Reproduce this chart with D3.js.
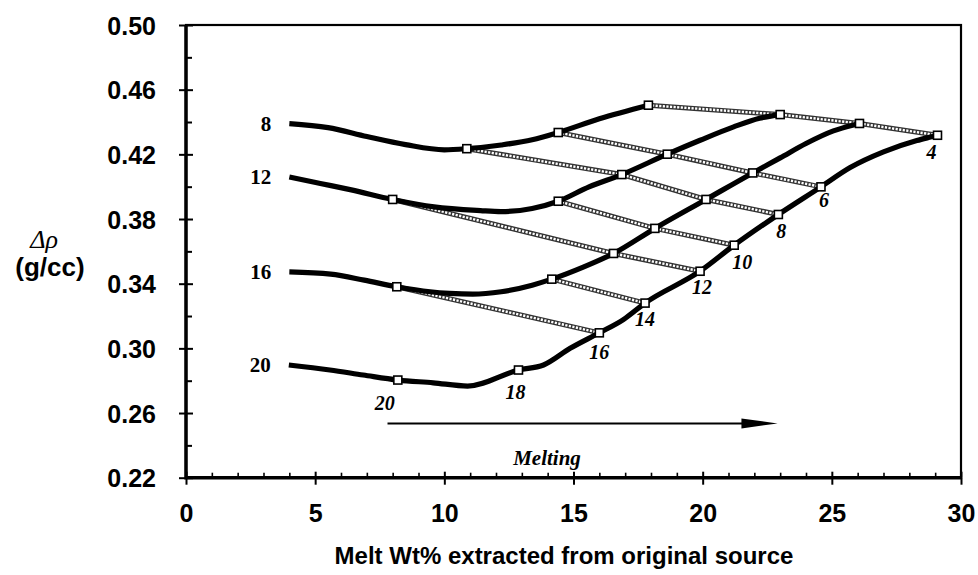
<!DOCTYPE html>
<html>
<head>
<meta charset="utf-8">
<script src="https://cdn.jsdelivr.net/npm/d3@7/dist/d3.min.js"></script>
<style>
  body { margin: 0; background: #fff; }
  svg { display: block; }
</style>
</head>
<body>
<svg id="chart" width="978" height="575"></svg>
<script>
// ---- data ---------------------------------------------------------------
// Axis ticks
const xTickValues = [0, 5, 10, 15, 20, 25, 30];
const xMinorValues = [1,2,3,4,6,7,8,9,11,12,13,14,16,17,18,19,21,22,23,24,26,27,28,29];
const yTickValues = [0.22, 0.26, 0.30, 0.34, 0.38, 0.42, 0.46, 0.50];
const yMinorValues = [0.24, 0.28, 0.32, 0.36, 0.40, 0.44, 0.48];

// Melting paths, one per starting pressure: [melt wt%, density contrast]
const startPressures = ["8", "12", "16", "20"];
const path8 = [[4.0,0.439],[5.5,0.4365],[7.0,0.431],[8.5,0.426],[10.0,0.4228],[10.87,0.4235],
  [12.2,0.4258],[13.4,0.429],[14.41,0.4335],[16.0,0.442],[17.9,0.4504]];
const path12 = [[4.0,0.406],[5.2,0.402],[6.4,0.398],[8.0,0.3921],[9.6,0.3875],[11.4,0.3852],
  [12.2,0.3846],[13.4,0.3865],[14.41,0.391],[15.6,0.3999],[16.87,0.4075],[18.63,0.4201],
  [19.9,0.4287],[21.2,0.437],[22.2,0.4423],[23.0,0.4446]];
const path16 = [[4.0,0.3473],[5.6,0.3459],[6.9,0.3422],[8.16,0.3381],[9.45,0.335],[10.2,0.334],
  [11.1,0.3335],[12.2,0.335],[13.4,0.3391],[14.16,0.3428],[15.4,0.3504],[16.55,0.3587],
  [18.15,0.3742],[20.13,0.3921],[21.94,0.4085],[23.0,0.4178],
  [24.0,0.4267],[25.06,0.4345],[25.84,0.4382],[26.07,0.4391]];
const path20 = [[3.98,0.2897],[5.57,0.2866],[6.86,0.2835],[8.2,0.2804],[9.57,0.2787],[10.9,0.2767],
  [12.87,0.2866],[13.84,0.2897],[14.87,0.300],[16.0,0.3096],[16.93,0.3178],[17.77,0.328],
  [19.9,0.3477],[21.22,0.3638],[22.93,0.3828],[24.58,0.3999],[25.71,0.4118],
  [27.0,0.4215],[28.29,0.4285],[28.74,0.4304],[29.09,0.4318]];

// Final-pressure isobars linking the paths (labelled at their last point)
const finalPressures = ["20", "18", "16", "14", "12", "10", "8", "6", "4"];
const iso20 = [[8.2,0.2804]];
const iso18 = [[12.87,0.2866]];
const iso16 = [[8.16,0.3381],[16.0,0.3096]];
const iso14 = [[14.16,0.3428],[17.77,0.328]];
const iso12 = [[8.0,0.3921],[16.55,0.3587],[19.9,0.3477]];
const iso10 = [[14.41,0.391],[18.15,0.3742],[21.22,0.3638]];
const iso8  = [[10.87,0.4235],[16.87,0.4075],[20.13,0.3921],[22.93,0.3828]];
const iso6  = [[14.41,0.4335],[18.63,0.4201],[21.94,0.4085],[24.58,0.3999]];
const iso4  = [[17.9,0.4504],[23.0,0.4446],[26.07,0.4391],[29.09,0.4318]];

// ---- layout -------------------------------------------------------------
const svg = d3.select("#chart");
const x = d3.scaleLinear().domain([0, 30]).range([186, 961]);
const y = d3.scaleLinear().domain([0.22, 0.50]).range([477.7, 25]);

const paths = [path8, path12, path16, path20];
const isobars = [iso20, iso18, iso16, iso14, iso12, iso10, iso8, iso6, iso4];
// label nudges (px) for the final-pressure numbers, relative to the last marker
const isoLabelOffset = [[-13,30],[-3,29],[0,26],[0,23],[2,23],[8,24],[3,24],[3,20],[-6,24]];

const sans = "'Liberation Sans', Arial, Helvetica, sans-serif";
const serif = "'Liberation Serif', 'Times New Roman', serif";

// ---- axes ---------------------------------------------------------------
// outward part of major ticks + labels
const yAxis = svg.append("g").attr("transform", `translate(${x(0)},0)`)
  .call(d3.axisLeft(y).tickValues(yTickValues).tickSize(7).tickPadding(23)
    .tickFormat(d3.format(".2f")));
yAxis.select(".domain").remove();
yAxis.selectAll("line").attr("stroke", "#000").attr("stroke-width", 2);
yAxis.selectAll("text").attr("font-family", sans).attr("font-weight", "bold")
  .attr("font-size", 25).attr("fill", "#000").attr("dy", "0.36em");

// inward major + minor ticks on the left axis
svg.append("g").attr("transform", `translate(${x(0)},0)`)
  .call(d3.axisRight(y).tickValues(yTickValues).tickSize(7).tickFormat(""))
  .call(g => g.select(".domain").remove())
  .call(g => g.selectAll("line").attr("stroke-width", 2));
svg.append("g").attr("transform", `translate(${x(0)},0)`)
  .call(d3.axisRight(y).tickValues(yMinorValues).tickSize(6).tickFormat(""))
  .call(g => g.select(".domain").remove())
  .call(g => g.selectAll("line").attr("stroke-width", 2));

const xAxis = svg.append("g").attr("transform", `translate(0,${y(0.22)})`)
  .call(d3.axisBottom(x).tickValues(xTickValues).tickSize(7).tickPadding(20)
    .tickFormat(d3.format("d")));
xAxis.select(".domain").remove();
xAxis.selectAll("line").attr("stroke", "#000").attr("stroke-width", 2);
xAxis.selectAll("text").attr("font-family", sans).attr("font-weight", "bold")
  .attr("font-size", 25).attr("fill", "#000");

svg.append("g").attr("transform", `translate(0,${y(0.22)})`)
  .call(d3.axisTop(x).tickValues(xTickValues).tickSize(6).tickFormat(""))
  .call(g => g.select(".domain").remove())
  .call(g => g.selectAll("line").attr("stroke-width", 2));
svg.append("g").attr("transform", `translate(0,${y(0.22)})`)
  .call(d3.axisTop(x).tickValues(xMinorValues).tickSize(5).tickFormat(""))
  .call(g => g.select(".domain").remove())
  .call(g => g.selectAll("line").attr("stroke-width", 1.6));

// frame
svg.append("rect")
  .attr("x", x(0)).attr("y", y(0.50))
  .attr("width", x(30) - x(0)).attr("height", y(0.22) - y(0.50))
  .attr("fill", "none").attr("stroke", "#000").attr("stroke-width", 2.2);
svg.append("path")
  .attr("d", `M${x(0)},${y(0.50)}V${y(0.22)}H${x(30)}`)
  .attr("fill", "none").attr("stroke", "#000").attr("stroke-width", 3.5);

// axis titles
svg.append("text").attr("x", 564).attr("y", 564).attr("text-anchor", "middle")
  .attr("font-family", sans).attr("font-weight", "bold").attr("font-size", 24)
  .text("Melt Wt% extracted from original source");
svg.append("text").attr("x", 44).attr("y", 248).attr("text-anchor", "middle")
  .attr("font-family", serif).attr("font-style", "italic").attr("font-size", 26)
  .text("\u0394\u03C1");
svg.append("text").attr("x", 50).attr("y", 276).attr("text-anchor", "middle")
  .attr("font-family", sans).attr("font-weight", "bold").attr("font-size", 26)
  .text("(g/cc)");

// ---- isobars (chain-pattern lines) ---------------------------------------
const straight = d3.line().x(d => x(d[0])).y(d => y(d[1]));
const isoG = svg.append("g");
isobars.filter(s => s.length > 1).forEach(s => {
  isoG.append("path").attr("d", straight(s)).attr("fill", "none")
    .attr("stroke", "#333").attr("stroke-width", 5);
  isoG.append("path").attr("d", straight(s)).attr("fill", "none")
    .attr("stroke", "#fff").attr("stroke-width", 2.4).attr("stroke-dasharray", "2.2 1.4");
});

// ---- melting paths ------------------------------------------------------
const smooth = d3.line().x(d => x(d[0])).y(d => y(d[1])).curve(d3.curveMonotoneX);
svg.append("g").selectAll("path").data(paths).join("path")
  .attr("d", smooth).attr("fill", "none").attr("stroke", "#000")
  .attr("stroke-width", 5.2).attr("stroke-linejoin", "round");

// starting-pressure labels at the left end of each path
svg.append("g").selectAll("text").data(paths).join("text")
  .attr("x", d => x(d[0][0]) - 18).attr("y", d => y(d[0][1]) + 7)
  .attr("text-anchor", "end").attr("font-family", serif).attr("font-weight", "bold")
  .attr("font-size", 21).text((d, i) => startPressures[i]);

// ---- markers ------------------------------------------------------------
const marks = isobars.flat();
svg.append("g").selectAll("rect").data(marks).join("rect")
  .attr("x", d => x(d[0]) - 4).attr("y", d => y(d[1]) - 4)
  .attr("width", 8).attr("height", 8)
  .attr("fill", "#fff").attr("stroke", "#000").attr("stroke-width", 1.6);

// final-pressure labels
svg.append("g").selectAll("text").data(isobars).join("text")
  .attr("x", (d, i) => x(d[d.length - 1][0]) + isoLabelOffset[i][0])
  .attr("y", (d, i) => y(d[d.length - 1][1]) + isoLabelOffset[i][1])
  .attr("text-anchor", "middle").attr("font-family", serif).attr("font-weight", "bold")
  .attr("font-style", "italic").attr("font-size", 20)
  .text((d, i) => finalPressures[i]);

// ---- melting arrow ------------------------------------------------------
const arrowY = y(0.2536);
svg.append("line").attr("x1", x(7.8)).attr("x2", x(21.7)).attr("y1", arrowY).attr("y2", arrowY)
  .attr("stroke", "#000").attr("stroke-width", 2);
svg.append("path")
  .attr("d", `M${x(21.5)},${arrowY - 5}L${x(22.9)},${arrowY}L${x(21.5)},${arrowY + 5}Z`)
  .attr("fill", "#000");
svg.append("text").attr("x", 547).attr("y", 465).attr("text-anchor", "middle")
  .attr("font-family", serif).attr("font-weight", "bold").attr("font-style", "italic")
  .attr("font-size", 21).text("Melting");
</script>
</body>
</html>
